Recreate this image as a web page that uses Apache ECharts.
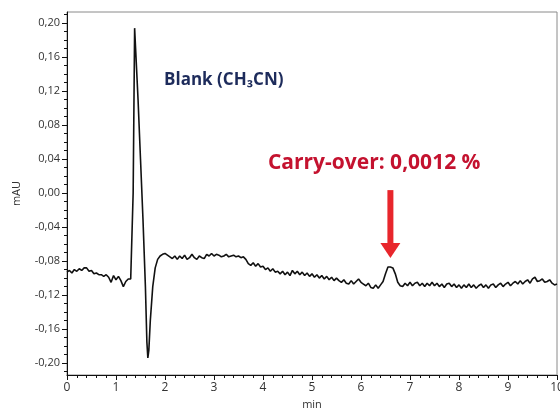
<!DOCTYPE html>
<html>
<head>
<meta charset="utf-8">
<script src="https://cdn.jsdelivr.net/npm/echarts@6/dist/echarts.min.js"></script>
<style>
  html, body { margin: 0; padding: 0; background: #fff; }
  #main { width: 560px; height: 410px; }
</style>
</head>
<body>
<div id="main"></div>
<script>
// retention time (min) and detector signal (mAU)
var times = [
  0.00, 0.05, 0.10, 0.15, 0.20, 0.25, 0.30, 0.35, 0.40, 0.45,
  0.50, 0.55, 0.60, 0.65, 0.70, 0.75, 0.80, 0.85, 0.90, 0.95,
  1.00, 1.05, 1.10, 1.15, 1.20, 1.25, 1.30,
  1.33, 1.35, 1.38, 1.40, 1.45, 1.50, 1.55, 1.60, 1.63, 1.65, 1.67, 1.70, 1.75, 1.80, 1.85, 1.90, 1.95,
  2.00, 2.05, 2.10, 2.15, 2.20, 2.25, 2.30, 2.35, 2.40, 2.45,
  2.50, 2.55, 2.60, 2.65, 2.70, 2.75, 2.80, 2.85, 2.90, 2.95,
  3.00, 3.05, 3.10, 3.15, 3.20, 3.25, 3.30, 3.35, 3.40, 3.45,
  3.50, 3.55, 3.60, 3.65, 3.70, 3.75, 3.80, 3.85, 3.90, 3.95,
  4.00, 4.05, 4.10, 4.15, 4.20, 4.25, 4.30, 4.35, 4.40, 4.45,
  4.50, 4.55, 4.60, 4.65, 4.70, 4.75, 4.80, 4.85, 4.90, 4.95,
  5.00, 5.05, 5.10, 5.15, 5.20, 5.25, 5.30, 5.35, 5.40, 5.45,
  5.50, 5.55, 5.60, 5.65, 5.70, 5.75, 5.80, 5.85, 5.90, 5.95,
  6.00, 6.05, 6.10, 6.15, 6.20, 6.25, 6.30, 6.35, 6.40, 6.45,
  6.50, 6.55, 6.60, 6.65, 6.70, 6.75, 6.80, 6.85, 6.90, 6.95,
  7.00, 7.05, 7.10, 7.15, 7.20, 7.25, 7.30, 7.35, 7.40, 7.45,
  7.50, 7.55, 7.60, 7.65, 7.70, 7.75, 7.80, 7.85, 7.90, 7.95,
  8.00, 8.05, 8.10, 8.15, 8.20, 8.25, 8.30, 8.35, 8.40, 8.45,
  8.50, 8.55, 8.60, 8.65, 8.70, 8.75, 8.80, 8.85, 8.90, 8.95,
  9.00, 9.05, 9.10, 9.15, 9.20, 9.25, 9.30, 9.35, 9.40, 9.45,
  9.50, 9.55, 9.60, 9.65, 9.70, 9.75, 9.80, 9.85, 9.90, 9.95,
  10.00
];
var mAU = [
  -0.093, -0.091, -0.094, -0.090, -0.092, -0.089, -0.091, -0.088, -0.088, -0.092,
  -0.091, -0.095, -0.094, -0.096, -0.096, -0.098, -0.096, -0.099, -0.105, -0.097,
  -0.102, -0.098, -0.103, -0.110, -0.104, -0.101, -0.101,
  -0.100, 0.000, 0.194, 0.170, 0.110, 0.040, -0.030, -0.110, -0.175, -0.194, -0.185, -0.150, -0.110, -0.088, -0.078, -0.074, -0.072,
  -0.071, -0.073, -0.075, -0.077, -0.074, -0.078, -0.074, -0.077, -0.073, -0.078,
  -0.076, -0.072, -0.076, -0.078, -0.074, -0.076, -0.077, -0.072, -0.074, -0.071,
  -0.074, -0.072, -0.073, -0.075, -0.074, -0.072, -0.075, -0.074, -0.073, -0.075,
  -0.074, -0.076, -0.075, -0.078, -0.083, -0.085, -0.082, -0.086, -0.083, -0.087,
  -0.086, -0.090, -0.088, -0.092, -0.089, -0.093, -0.092, -0.095, -0.092, -0.096,
  -0.093, -0.097, -0.091, -0.095, -0.092, -0.096, -0.093, -0.097, -0.094, -0.098,
  -0.095, -0.099, -0.096, -0.100, -0.097, -0.101, -0.098, -0.102, -0.099, -0.103,
  -0.100, -0.103, -0.105, -0.102, -0.106, -0.107, -0.103, -0.107, -0.104, -0.101,
  -0.105, -0.107, -0.109, -0.106, -0.111, -0.112, -0.108, -0.112, -0.108, -0.104,
  -0.095, -0.087, -0.087, -0.088, -0.095, -0.105, -0.109, -0.110, -0.106, -0.109,
  -0.105, -0.109, -0.106, -0.105, -0.109, -0.106, -0.110, -0.106, -0.109, -0.105,
  -0.109, -0.106, -0.110, -0.107, -0.111, -0.107, -0.106, -0.110, -0.107, -0.111,
  -0.108, -0.112, -0.108, -0.111, -0.107, -0.111, -0.108, -0.112, -0.109, -0.107,
  -0.111, -0.108, -0.112, -0.108, -0.107, -0.111, -0.108, -0.106, -0.110, -0.107,
  -0.105, -0.109, -0.106, -0.104, -0.107, -0.103, -0.107, -0.104, -0.102, -0.106,
  -0.101, -0.099, -0.104, -0.103, -0.101, -0.105, -0.104, -0.102, -0.106, -0.108,
  -0.107
];
var yLabels = [-0.20, -0.16, -0.12, -0.08, -0.04, 0.00, 0.04, 0.08, 0.12, 0.16, 0.20];
var yMinor = [];
for (var k = -21; k <= 21; k++) { yMinor.push(k / 100); }

var blankText = "Blank (CH\u2083CN)";
var carryText = "Carry-over: 0,0012 %";
var carryPeak = 6.6;

var chart = echarts.init(document.getElementById("main"));
var points = times.map(function (t, i) { return [t, mAU[i]]; });
var yMin = -0.214, yMax = 0.213;

var option = {
  animation: false,
  textStyle: { fontFamily: "Open Sans" },
  grid: {
    left: 67, right: 3, top: 12, bottom: 35,
    outerBoundsMode: "none",
    show: true, borderColor: "#8a8a8a", borderWidth: 1
  },
  xAxis: {
    type: "value", min: 0, max: 10, interval: 1,
    name: "min", nameLocation: "middle", nameGap: 24,
    nameTextStyle: { fontSize: 11, color: "#333" },
    axisLine: { onZero: false, lineStyle: { color: "#111", width: 1 } },
    axisTick: { length: 5, lineStyle: { color: "#111" } },
    minorTick: { show: true, splitNumber: 5, length: 3, lineStyle: { color: "#111" } },
    splitLine: { show: false },
    axisLabel: { fontSize: 12, color: "#333", margin: 7 }
  },
  yAxis: [
    {
      type: "value", min: yMin, max: yMax,
      name: "mAU", nameLocation: "middle", nameGap: 45, nameRotate: 90,
      nameTextStyle: { fontSize: 11, color: "#333" },
      axisLine: { show: true, onZero: false, lineStyle: { color: "#111", width: 1 } },
      axisTick: { show: true, length: 5, customValues: yLabels, lineStyle: { color: "#111" } },
      axisLabel: {
        fontSize: 11, color: "#333", margin: 7, customValues: yLabels,
        formatter: function (v) { return (Math.round(v * 100) / 100).toFixed(2).replace(".", ","); }
      },
      splitLine: { show: false }
    },
    {
      type: "value", min: yMin, max: yMax, position: "left",
      axisLine: { show: false, onZero: false },
      axisTick: { show: true, length: 3, customValues: yMinor, lineStyle: { color: "#111" } },
      axisLabel: { show: false },
      splitLine: { show: false }
    }
  ],
  series: [
    {
      type: "line",
      data: points,
      showSymbol: false,
      symbol: "none",
      lineStyle: { color: "#111", width: 1.6 },
      z: 3
    }
  ]
};
chart.setOption(option);

// annotations placed through the chart's own coordinate system
var pBlank = chart.convertToPixel({ gridIndex: 0 }, [3.2, 0.133]);
var pCarry = chart.convertToPixel({ gridIndex: 0 }, [6.27, 0.035]);
var pArrowTop = chart.convertToPixel({ gridIndex: 0 }, [carryPeak, 0.0035]);
var pArrowTip = chart.convertToPixel({ gridIndex: 0 }, [carryPeak, -0.0765]);
var headH = 15, headW = 10;

chart.setOption({
  graphic: [
    {
      type: "text", x: pBlank[0], y: pBlank[1],
      style: {
        text: blankText, fill: "#1d2b5b", fontSize: 17, fontWeight: "bold",
        fontFamily: "Open Sans", align: "center", verticalAlign: "middle"
      }
    },
    {
      type: "text", x: pCarry[0], y: pCarry[1],
      style: {
        text: carryText, fill: "#c4122f", fontSize: 21, fontWeight: "bold",
        fontFamily: "Open Sans", align: "center", verticalAlign: "middle"
      }
    },
    {
      type: "line",
      shape: { x1: pArrowTop[0], y1: pArrowTop[1], x2: pArrowTip[0], y2: pArrowTip[1] - headH + 2 },
      style: { stroke: "#e8262c", lineWidth: 6 }
    },
    {
      type: "polygon",
      shape: {
        points: [
          [pArrowTip[0] - headW, pArrowTip[1] - headH],
          [pArrowTip[0] + headW, pArrowTip[1] - headH],
          [pArrowTip[0], pArrowTip[1]]
        ]
      },
      style: { fill: "#e8262c" }
    }
  ]
});
</script>
</body>
</html>
